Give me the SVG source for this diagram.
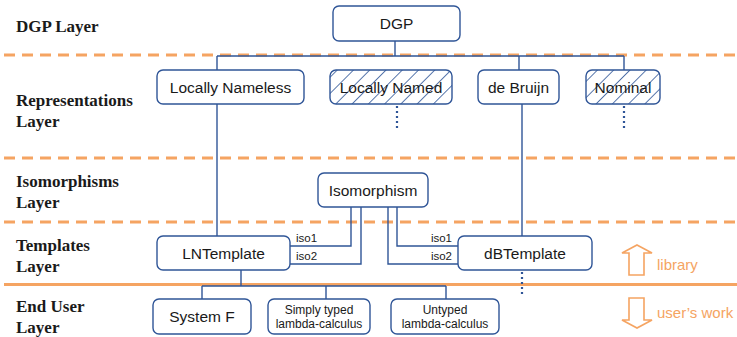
<svg xmlns="http://www.w3.org/2000/svg" width="737" height="337" viewBox="0 0 737 337">
<defs>
<pattern id="hatch" patternUnits="userSpaceOnUse" width="11.5" height="11.5" patternTransform="rotate(45)">
<line x1="0" y1="0" x2="0" y2="11.5" stroke="#2f5597" stroke-width="1.6"/>
</pattern>
<style>
.box{fill:#fff;stroke:#2f5597;stroke-width:1.4}
.hbox{fill:url(#hatch);stroke:#2f5597;stroke-width:1.4}
.t{font-family:"Liberation Sans",Arial,sans-serif;font-size:15.5px;fill:#1a1a1a;text-anchor:middle}
.s{font-family:"Liberation Sans",Arial,sans-serif;font-size:12px;fill:#1a1a1a;text-anchor:middle}
.iso{font-family:"Liberation Sans",Arial,sans-serif;font-size:11.5px;fill:#1a1a1a}
.lay{font-family:"Liberation Serif","Times New Roman",serif;font-size:17px;font-weight:bold;fill:#1a1a1a}
.dash{stroke:#f5a462;stroke-width:3;stroke-dasharray:11 7;fill:none}
.con{stroke:#2f5597;stroke-width:1.4;fill:none}
.dot{stroke:#2f5597;stroke-width:2.2;stroke-dasharray:2 3;fill:none}
.or{font-family:"Liberation Sans",Arial,sans-serif;font-size:15px;fill:#f5a462}
.arr{fill:#fff;stroke:#f5a462;stroke-width:1.6}
</style>
</defs>
<rect width="737" height="337" fill="#fff"/>
<g id="layer-lines">
<line class="dash" x1="4" y1="55" x2="737" y2="55"/>
<line class="dash" x1="4" y1="158" x2="737" y2="158"/>
<line class="dash" x1="4" y1="222" x2="737" y2="222"/>
<line x1="4" y1="284.5" x2="737" y2="284.5" stroke="#f5a462" stroke-width="3"/>
</g>
<g id="layer-labels">
<text class="lay" x="16" y="32">DGP Layer</text>
<text class="lay" x="16" y="106">Representations</text>
<text class="lay" x="16" y="127">Layer</text>
<text class="lay" x="16" y="187">Isomorphisms</text>
<text class="lay" x="16" y="208">Layer</text>
<text class="lay" x="16" y="251">Templates</text>
<text class="lay" x="16" y="272">Layer</text>
<text class="lay" x="16" y="312">End User</text>
<text class="lay" x="16" y="333">Layer</text>
</g>
<g id="connectors">
<path class="con" d="M395 41V56M217 56H624M217 56V70M519 56V70M624 56V70"/>
<path class="con" d="M217 104V236"/>
<path class="con" d="M522 104V236"/>
<path class="con" d="M290 246H351V207M290 264H361V207"/>
<path class="con" d="M458 246H397V207M458 264H388V207"/>
<path class="con" d="M241 270V286M202 286H446M202 286V299M326 286V299M446 286V299"/>
<path class="dot" d="M397 106V128M624 106V128M522 272V294"/>
</g>
<g id="dgp"><rect class="box" x="333" y="6" width="127" height="35" rx="6"/><text class="t" x="396.5" y="29">DGP</text></g>
<g id="locally-nameless"><rect class="box" x="157" y="70" width="147" height="34" rx="6"/><text class="t" x="230.5" y="92.5">Locally Nameless</text></g>
<g id="locally-named"><rect class="hbox" x="330" y="70" width="122" height="34" rx="6"/><text class="t" x="391" y="92.5">Locally Named</text></g>
<g id="de-bruijn"><rect class="box" x="478" y="70" width="81" height="34" rx="6"/><text class="t" x="518.5" y="92.5">de Bruijn</text></g>
<g id="nominal"><rect class="hbox" x="586" y="70" width="74" height="34" rx="6"/><text class="t" x="623" y="92.5">Nominal</text></g>
<g id="isomorphism"><rect class="box" x="318" y="173" width="110" height="34" rx="6"/><text class="t" x="373" y="195.5">Isomorphism</text></g>
<g id="lntemplate"><rect class="box" x="157" y="236" width="133" height="34" rx="6"/><text class="t" x="223.5" y="258.5">LNTemplate</text>
<text class="iso" x="296" y="242">iso1</text><text class="iso" x="296" y="260">iso2</text></g>
<g id="dbtemplate"><rect class="box" x="458" y="236" width="134" height="34" rx="6"/><text class="t" x="525" y="258.5">dBTemplate</text>
<text class="iso" x="452" y="242" text-anchor="end">iso1</text><text class="iso" x="452" y="260" text-anchor="end">iso2</text></g>
<g id="system-f"><rect class="box" x="153" y="299" width="98" height="35" rx="6"/><text class="t" x="202" y="322">System F</text></g>
<g id="simply-typed"><rect class="box" x="268" y="299" width="102" height="35" rx="6"/><text class="s" x="319" y="314">Simply typed</text><text class="s" x="319" y="328">lambda-calculus</text></g>
<g id="untyped"><rect class="box" x="391" y="299" width="108" height="35" rx="6"/><text class="s" x="445" y="314">Untyped</text><text class="s" x="445" y="328">lambda-calculus</text></g>
<g id="legend">
<path class="arr" d="M637 245L652 253H644V275H629V253H622Z"/>
<text class="or" x="657" y="270">library</text>
<path class="arr" d="M629 298H644V320H652L637 328L622 320H629Z"/>
<text class="or" x="657" y="318">user’s work</text>
</g>
</svg>
